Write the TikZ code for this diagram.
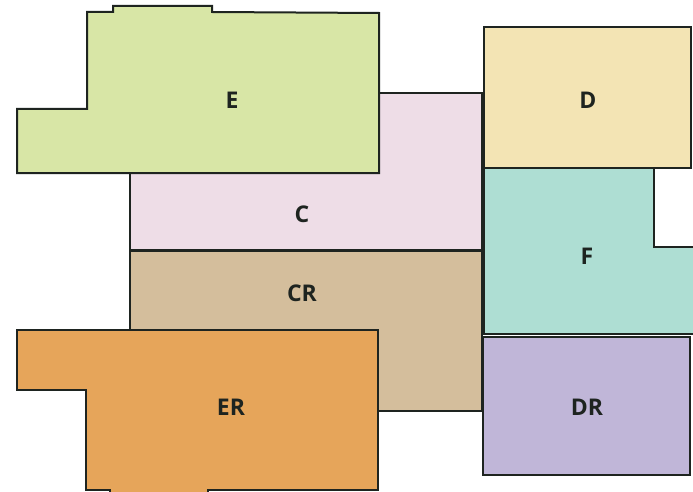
\documentclass[tikz,border=0pt]{standalone}
\usepackage{fontspec}
\setmainfont{Open Sans}
\definecolor{cE}{HTML}{D8E6A6}
\definecolor{cD}{HTML}{F3E4B4}
\definecolor{cC}{HTML}{EEDDE7}
\definecolor{cF}{HTML}{AEDED3}
\definecolor{cCR}{HTML}{D4BE9C}
\definecolor{cER}{HTML}{E6A55A}
\definecolor{cDR}{HTML}{C0B6D8}
\definecolor{ink}{HTML}{1E2420}
\tikzset{
  room/.style={draw=ink, line width=2pt, line join=miter},
  lbl/.style={text=ink, font=\bfseries\fontsize{23}{23}\selectfont, inner sep=0pt}
}
\begin{document}
\begin{tikzpicture}[x=1pt,y=-1pt]
\useasboundingbox (0,0) rectangle (693,492);
\fill[white] (0,0) rectangle (693,492);
\begin{scope}
\clip (0,0) rectangle (693,492);
% C
\path[room, fill=cC] (130,93) rectangle (482,250);
% E
\path[room, fill=cE] (87,12) -- (113,12) -- (113,6) -- (212,6) -- (212,12) -- (379,13) -- (379,173) -- (17,173) -- (17,109) -- (87,109) -- cycle;
% CR
\path[room, fill=cCR] (130,251) rectangle (482,411);
% ER
\path[room, fill=cER] (17,330) -- (378,330) -- (378,490) -- (208,490) -- (208,497) -- (110,497) -- (110,490) -- (86,490) -- (86,390) -- (17,390) -- cycle;
% D
\path[room, fill=cD] (484,27) rectangle (691,168);
% F
\path[room, fill=cF] (484,168) -- (654,168) -- (654,247) -- (697,247) -- (697,334) -- (484,334) -- cycle;
% DR
\path[room, fill=cDR] (483,337) rectangle (690,475);
\end{scope}
\node[lbl] (lE) at (232,100) {E};
\node[lbl] (lD) at (588,100) {D};
\node[lbl] (lC) at (302,214) {C};
\node[lbl] (lF) at (587,256) {F};
\node[lbl] (lCR) at (302,293) {CR};
\node[lbl] (lER) at (231,407) {ER};
\node[lbl] (lDR) at (587,407) {DR};
\end{tikzpicture}
\end{document}
